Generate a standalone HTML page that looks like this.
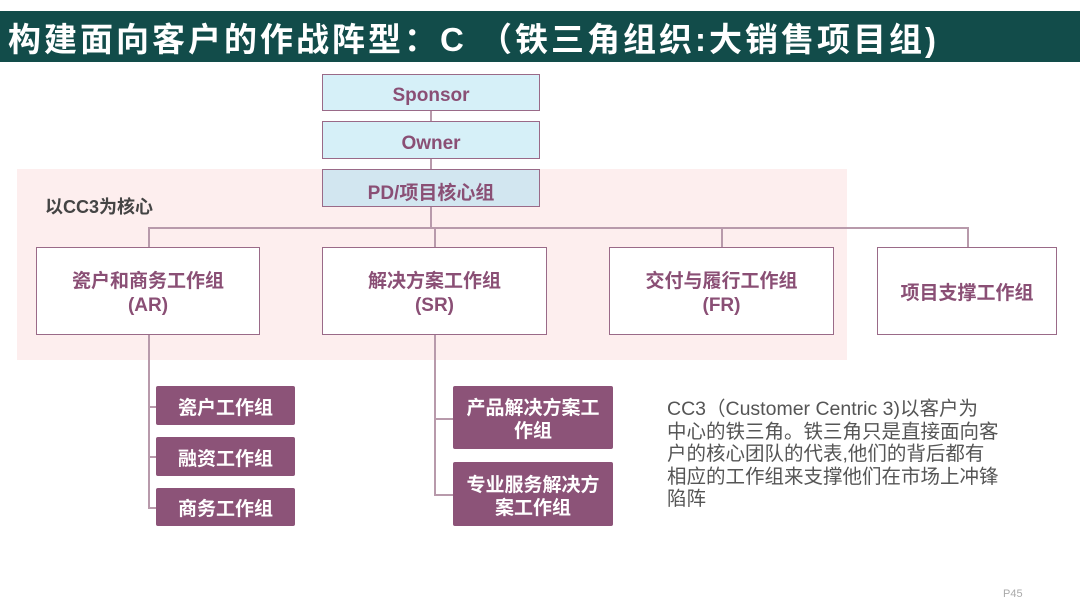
<!DOCTYPE html>
<html><head><meta charset="utf-8"><style>
body{margin:0;width:1080px;height:608px;background:#fff;position:relative;overflow:hidden;font-family:"Liberation Sans","Noto Sans CJK SC",sans-serif}
.a{position:absolute;box-sizing:border-box}
.t{left:0;top:11px;width:1080px;height:51px;background:#124c4a;color:#fff;font-size:33px;font-weight:bold;line-height:58px;padding-left:8px;letter-spacing:3px;white-space:nowrap}
.bl{background:#d6f0f8;border:1.5px solid #9a6a88;color:#8a4f75;font-weight:bold;font-size:19px;display:flex;align-items:center;justify-content:center;padding-top:7px}
.w{background:#fff;border:1.5px solid #9a6a88;color:#8a4f75;font-weight:bold;font-size:19px;display:flex;align-items:center;justify-content:center;text-align:center;line-height:24px;padding-top:6px}
.p{background:#8c5378;color:#fff;font-weight:bold;font-size:19px;display:flex;align-items:center;justify-content:center;text-align:center;line-height:23px;border-radius:2px;padding-top:5px}
.l{background:#b89aab}
</style></head><body>
<div class="a t">构建面向客户的作战阵型：C （铁三角组织:大销售项目组)</div>
<div class="a" style="left:17px;top:169px;width:830px;height:191px;background:#fdeeee"></div>
<div class="a" style="left:45px;top:193px;font-size:18px;font-weight:bold;color:#444">以CC3为核心</div>
<div class="a l" style="left:430px;top:111px;width:1.5px;height:116px"></div>
<div class="a l" style="left:148px;top:227px;width:820px;height:1.5px"></div>
<div class="a l" style="left:148px;top:227px;width:1.5px;height:20px"></div>
<div class="a l" style="left:434px;top:227px;width:1.5px;height:20px"></div>
<div class="a l" style="left:721px;top:227px;width:1.5px;height:20px"></div>
<div class="a l" style="left:967px;top:227px;width:1.5px;height:20px"></div>
<div class="a bl" style="left:322px;top:74px;width:218px;height:37px">Sponsor</div>
<div class="a bl" style="left:322px;top:121px;width:218px;height:38px">Owner</div>
<div class="a bl" style="left:322px;top:169px;width:218px;height:38px;background:#d2e6f0">PD/项目核心组</div>
<div class="a w" style="left:36px;top:247px;width:224px;height:88px">瓷户和商务工作组<br>(AR)</div>
<div class="a w" style="left:322px;top:247px;width:225px;height:88px">解决方案工作组<br>(SR)</div>
<div class="a w" style="left:609px;top:247px;width:225px;height:88px">交付与履行工作组<br>(FR)</div>
<div class="a w" style="left:877px;top:247px;width:180px;height:88px">项目支撑工作组</div>
<div class="a l" style="left:148px;top:335px;width:1.5px;height:173px"></div>
<div class="a l" style="left:148px;top:406px;width:8px;height:1.5px"></div>
<div class="a l" style="left:148px;top:456px;width:8px;height:1.5px"></div>
<div class="a l" style="left:148px;top:507px;width:8px;height:1.5px"></div>
<div class="a p" style="left:156px;top:386px;width:139px;height:39px">瓷户工作组</div>
<div class="a p" style="left:156px;top:437px;width:139px;height:39px">融资工作组</div>
<div class="a p" style="left:156px;top:488px;width:139px;height:38px">商务工作组</div>
<div class="a l" style="left:434px;top:335px;width:1.5px;height:161px"></div>
<div class="a l" style="left:434px;top:418px;width:19px;height:1.5px"></div>
<div class="a l" style="left:434px;top:494px;width:19px;height:1.5px"></div>
<div class="a p" style="left:453px;top:386px;width:160px;height:63px">产品解决方案工<br>作组</div>
<div class="a p" style="left:453px;top:462px;width:160px;height:64px">专业服务解决方<br>案工作组</div>
<div class="a" style="left:667px;top:398px;width:360px;font-size:19.5px;line-height:22.5px;color:#555;white-space:nowrap">CC3（Customer Centric 3)以客户为<br>中心的铁三角。铁三角只是直接面向客<br>户的核心团队的代表,他们的背后都有<br>相应的工作组来支撑他们在市场上冲锋<br>陷阵</div>
<div class="a" style="left:1003px;top:588px;font-size:11px;color:#aaa">P45</div>
</body></html>
